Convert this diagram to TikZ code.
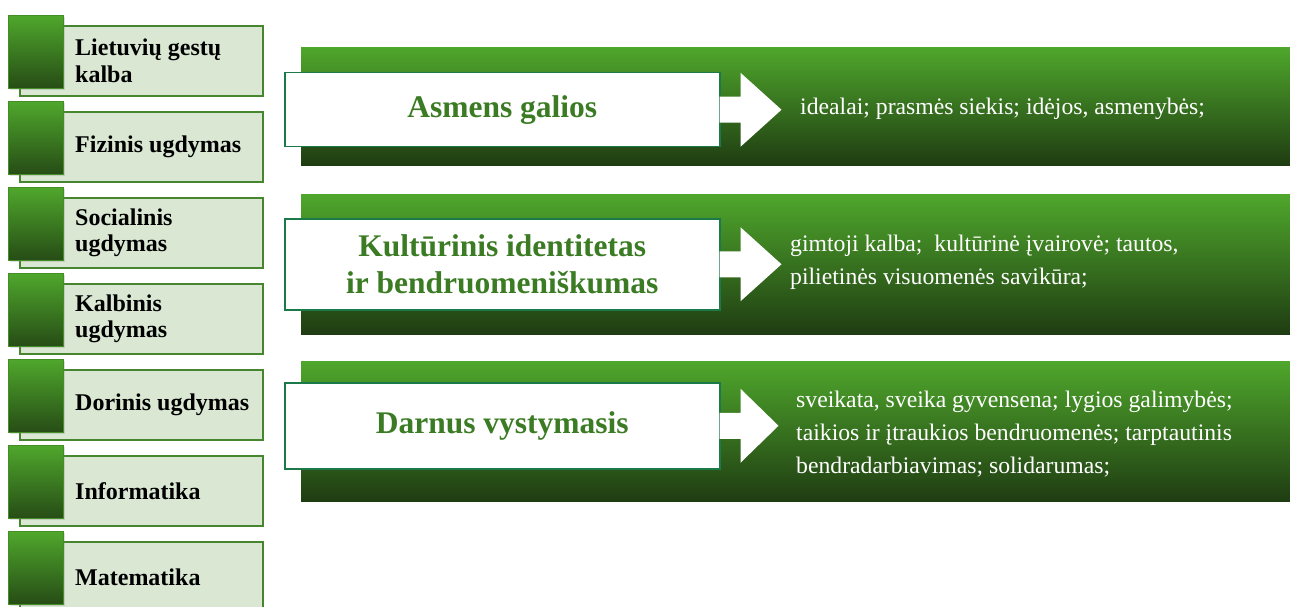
\documentclass[tikz,border=0pt]{standalone}
\usepackage{fontspec}
\setmainfont{Liberation Serif}
\usetikzlibrary{positioning,shadows}
\definecolor{leafTop}{HTML}{4FA72C}
\definecolor{leafBottom}{HTML}{1F3C12}
\definecolor{paleGreen}{HTML}{D9E7D3}
\definecolor{edgeGreen}{HTML}{45862F}
\definecolor{tealEdge}{HTML}{1C7A4A}
\definecolor{titleGreen}{HTML}{3B7B24}

\begin{document}
\begin{tikzpicture}[x=1pt, y=-1pt,
    subj/.style={draw=edgeGreen, line width=1.6pt, fill=paleGreen, minimum width=243pt, minimum height=70pt, anchor=north west, inner sep=0pt},
    tab/.style={draw=leafTop!85!black, line width=0.8pt, top color=leafTop, bottom color=leafBottom!85!leafTop, minimum width=55pt, minimum height=73pt, anchor=north west, inner sep=0pt, drop shadow={opacity=0.25, shadow xshift=1.5pt, shadow yshift=-1.5pt}},
    subjtxt/.style={anchor=west, align=left, inner sep=0pt, font=\fontsize{24}{26.5}\selectfont\bfseries},
    band/.style={top color=leafTop, bottom color=leafBottom, minimum width=989pt, anchor=north west, inner sep=0pt},
    goal/.style={draw=tealEdge, line width=1.5pt, fill=white, minimum width=435pt, anchor=north west, align=center, text=titleGreen, font=\fontsize{31.5}{37}\selectfont\bfseries},
    note/.style={anchor=west, align=left, inner sep=0pt, text=white, font=\fontsize{23.7}{33}\selectfont}
  ]
    \useasboundingbox (0,0) rectangle (1290,607);

    \node[subj] (L1) at (19,25) {};
    \node[tab] (S1) at (8,15) {};
    \node[subjtxt, right=56pt of L1.west] (T1) {Lietuvių gestų\\kalba};

    \node[subj] (L2) at (19,111) {};
    \node[tab] (S2) at (8,101) {};
    \node[subjtxt, right=56pt of L2.west] (T2) {Fizinis ugdymas};

    \node[subj] (L3) at (19,197) {};
    \node[tab] (S3) at (8,187) {};
    \node[subjtxt, right=56pt of L3.west] (T3) {Socialinis\\ugdymas};

    \node[subj] (L4) at (19,283) {};
    \node[tab] (S4) at (8,273) {};
    \node[subjtxt, right=56pt of L4.west] (T4) {Kalbinis\\ugdymas};

    \node[subj] (L5) at (19,369) {};
    \node[tab] (S5) at (8,359) {};
    \node[subjtxt, right=56pt of L5.west] (T5) {Dorinis ugdymas};

    \node[subj] (L6) at (19,455) {};
    \node[tab] (S6) at (8,445) {};
    \node[subjtxt, right=56pt of L6.west] (T6) {Informatika};

    \node[subj] (L7) at (19,541) {};
    \node[tab] (S7) at (8,531) {};
    \node[subjtxt, right=56pt of L7.west] (T7) {Matematika};

    \node[band, minimum height=118pt] (B1) at (301,47) {};
    \node[band, minimum height=140pt] (B2) at (301,194) {};
    \node[band, minimum height=140pt] (B3) at (301,361) {};

    \node[goal, minimum height=74pt] (G1) at (284,72) {Asmens galios};
    \node[goal, minimum height=91pt] (G2) at (284,218) {Kultūrinis identitetas\\ir bendruomeniškumas};
    \node[goal, minimum height=86pt] (G3) at (284,382) {Darnus vystymasis};

    \fill[white] ([xshift=-1pt,yshift=13pt]G1.east) -- ++(21pt,0pt) -- ++(0pt,24pt) -- ++(41pt,-37pt) -- ++(-41pt,-37pt) -- ++(0pt,24pt) -- ++(-21pt,0pt) -- cycle;
    \fill[white] ([xshift=-1pt,yshift=13pt]G2.east) -- ++(21pt,0pt) -- ++(0pt,24pt) -- ++(41pt,-37pt) -- ++(-41pt,-37pt) -- ++(0pt,24pt) -- ++(-21pt,0pt) -- cycle;
    \fill[white] ([xshift=-1pt,yshift=13pt]G3.east) -- ++(21pt,0pt) -- ++(0pt,24pt) -- ++(38pt,-37pt) -- ++(-38pt,-37pt) -- ++(0pt,24pt) -- ++(-21pt,0pt) -- cycle;

    \node[note] (D1) at (800,109) {idealai; prasmės siekis; idėjos, asmenybės;};
    \node[note] (D2) at (790,262) {gimtoji kalba;~ kultūrinė įvairovė; tautos,\\pilietinės visuomenės savikūra;};
    \node[note] (D3) at (796,434.5) {sveikata, sveika gyvensena; lygios galimybės;\\taikios ir įtraukios bendruomenės; tarptautinis\\bendradarbiavimas; solidarumas;};
  \end{tikzpicture}
\end{document}
